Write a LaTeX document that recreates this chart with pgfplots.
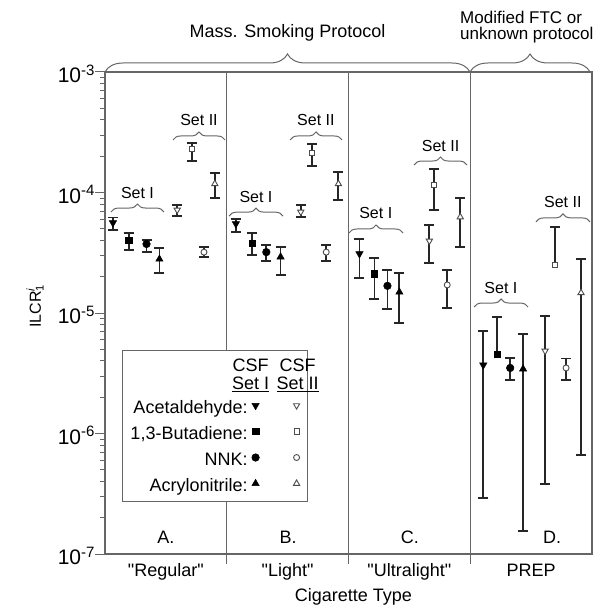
\documentclass[border=0pt]{standalone}
\usepackage{fontspec}
\setmainfont{Liberation Sans}
\setmonofont{Liberation Sans}
\usepackage{pgfplots}
\pgfplotsset{compat=1.18}
\usetikzlibrary{decorations.pathreplacing}
\newcommand{\fs}{\fontsize{18}{21}\selectfont}
\newcommand{\lfs}{\fontsize{18}{21}\selectfont}
\newcommand{\sfs}{\fontsize{16}{19}\selectfont}
\newcommand{\q}{\texttt{"}}
\newcommand{\tl}[1]{{\fontsize{21}{24}\selectfont 10}\raisebox{7.5pt}{\fontsize{15}{17}\selectfont #1}}
\newcommand{\st}{\rule[-3.8pt]{0pt}{20.6pt}}
\tikzset{
  mAI/.style={mark=triangle*, mark size=4.2pt, mark options={rotate=180, fill=black, draw=black, line width=0.5pt}},
  mBI/.style={mark=square*, mark size=3.2pt, mark options={fill=black, draw=black, line width=0.5pt}},
  mNI/.style={mark=*, mark size=3.8pt, mark options={fill=black, draw=black, line width=0.5pt}},
  mRI/.style={mark=triangle*, mark size=4.2pt, mark options={fill=black, draw=black, line width=0.5pt}},
  mAII/.style={mark=triangle*, mark size=3.6pt, mark options={rotate=180, fill=white, draw=black!70, line width=0.9pt}},
  mBII/.style={mark=square*, mark size=2.6pt, mark options={fill=white, draw=black!70, line width=0.9pt}},
  mNII/.style={mark=*, mark size=3pt, mark options={fill=white, draw=black!70, line width=0.9pt}},
  mRII/.style={mark=triangle*, mark size=3.6pt, mark options={fill=white, draw=black!70, line width=0.9pt}},
}
\pgfplotsset{
  ebar/.style={only marks, black,
    error bars/y dir=both, error bars/y explicit,
    error bars/error bar style={line width=1.8pt, black!85},
    error bars/error mark options={rotate=90, mark size=5pt, line width=1.6pt, black!85}},
  ebarplus/.style={only marks, black,
    error bars/y dir=plus, error bars/y explicit,
    error bars/error bar style={line width=1.8pt, black!85},
    error bars/error mark options={rotate=90, mark size=5pt, line width=1.6pt, black!85}},
  legA/.style={legend image code/.code={\path[draw=none] (0pt,-13pt) rectangle (41pt,13pt);
     \draw[black, only marks, mAI] plot coordinates {(8pt,0pt)};
     \draw[black, only marks, mAII] plot coordinates {(49pt,0pt)};}},
  legB/.style={legend image code/.code={\path[draw=none] (0pt,-13pt) rectangle (41pt,13pt);
     \draw[black, only marks, mBI] plot coordinates {(8pt,0pt)};
     \draw[black, only marks, mBII] plot coordinates {(49pt,0pt)};}},
  legN/.style={legend image code/.code={\path[draw=none] (0pt,-13pt) rectangle (41pt,13pt);
     \draw[black, only marks, mNI] plot coordinates {(8pt,0pt)};
     \draw[black, only marks, mNII] plot coordinates {(49pt,0pt)};}},
  legR/.style={legend image code/.code={\path[draw=none] (0pt,-13pt) rectangle (41pt,13pt);
     \draw[black, only marks, mRI] plot coordinates {(8pt,0pt)};
     \draw[black, only marks, mRII] plot coordinates {(49pt,0pt)};}},
  legH/.style={legend image code/.code={\path[draw=none] (0pt,-21pt) rectangle (41pt,16pt);
     \node[overlay, anchor=base, inner sep=0pt, font=\lfs, black] at (3pt,0pt) {CSF};
     \node[overlay, anchor=base, inner sep=0pt, font=\lfs, black] at (3pt,-18pt) {\underline{Set I}};
     \node[overlay, anchor=base, inner sep=0pt, font=\lfs, black] at (50pt,0pt) {CSF};
     \node[overlay, anchor=base, inner sep=0pt, font=\lfs, black] at (50pt,-18pt) {\underline{Set II}};}},
}
\begin{document}
\begin{tikzpicture}
\path[use as bounding box] (-105pt,-58pt) rectangle (500pt,554pt);
\begin{axis}[
  at={(0,0)}, anchor=south west,
  scale only axis, width=487pt, height=482pt,
  xmin=0, xmax=4, ymode=log, ymin=1e-7, ymax=1e-3,
  clip=false,
  axis line style={black!60, line width=1.2pt},
  xtick={1,2,3}, xticklabels={,,},
  xmajorgrids, grid style={black!60, line width=1.2pt},
  extra x ticks={0.5,1.5,2.5,3.5},
  extra x tick labels={{\q Regular\q},{\q Light\q},{\q Ultralight\q},{PREP}},
  extra x tick style={major tick length=0pt, grid=none,
     xticklabel style={anchor=base, yshift=-22pt}},
  xtick pos=bottom, ytick pos=left, tick align=outside,
  major tick length=10pt, minor tick length=5pt,
  tick style={black!60, line width=1pt},
  ytick={1e-7,1e-6,1e-5,1e-4,1e-3},
  yticklabels={\tl{-7},\tl{-6},\tl{-5},\tl{-4},\tl{-3}},
  yticklabel style={xshift=3pt, yshift=-2pt},
  tick label style={font=\fs},
  label style={font=\fs},
  xlabel={Cigarette Type},
  xlabel style={at={(rel axis cs:0.51,0)}, anchor=base, yshift=-47pt},
  ylabel={ILCR\rlap{\textsuperscript{\textit{i}}}\textsubscript{1}},
  ylabel style={at={(rel axis cs:-0.1437,0.5145)}, anchor=center, font=\sfs},
  legend columns=1, legend cell align=right, legend plot pos=right,
  legend style={at={(rel axis cs:0.0349,0.4232)}, anchor=north west,
    draw=black!60, line width=1pt, font=\lfs, inner xsep=8pt, inner ysep=5pt,
    row sep=0pt, column sep=0pt, nodes={inner sep=0pt}},
]
% ---- Set I (filled) ----
\addplot[ebar, mAI, forget plot] coordinates {
 (0.065,5.6e-5) += (0,0.6e-5) -= (0,0.7e-5)
 (1.075,5.5e-5) += (0,0.5e-5) -= (0,0.8e-5)
 (2.09,3.1e-5) += (0,1.0e-5) -= (0,1.15e-5)
 (3.107,3.7e-6) += (0,3.4e-6) -= (0,3.41e-6)
};
\addplot[ebar, mBI, forget plot] coordinates {
 (0.195,4.0e-5) += (0,0.6e-5) -= (0,0.67e-5)
 (1.208,3.8e-5) += (0,0.8e-5) -= (0,0.77e-5)
 (2.213,2.11e-5) += (0,0.75e-5) -= (0,0.8e-5)
};
\addplot[ebarplus, mBI, forget plot] coordinates {
 (3.221,4.57e-6) += (0,4.7e-6) -= (0,0)
};
\addplot[ebar, mNI, forget plot] coordinates {
 (0.341,3.74e-5) += (0,0.3e-5) -= (0,0.54e-5)
 (1.325,3.2e-5) += (0,0.46e-5) -= (0,0.5e-5)
 (2.32,1.68e-5) += (0,0.59e-5) -= (0,0.6e-5)
 (3.328,3.5e-6) += (0,0.74e-6) -= (0,0.72e-6)
};
\addplot[ebar, mRI, forget plot] coordinates {
 (0.447,2.8e-5) += (0,0.66e-5) -= (0,0.65e-5)
 (1.442,2.92e-5) += (0,0.61e-5) -= (0,0.85e-5)
 (2.418,1.49e-5) += (0,0.66e-5) -= (0,0.664e-5)
 (3.434,3.43e-6) += (0,3.27e-6) -= (0,3.275e-6)
};
% ---- Set II (open) ----
\addplot[ebar, mAII, forget plot] coordinates {
 (0.593,7.16e-5) += (0,0.71e-5) -= (0,0.78e-5)
 (1.608,6.9e-5) += (0,0.97e-5) -= (0,0.64e-5)
 (2.664,3.96e-5) += (0,1.41e-5) -= (0,1.36e-5)
 (3.615,4.84e-6) += (0,4.59e-6) -= (0,4.46e-6)
};
\addplot[ebar, mBII, forget plot] coordinates {
 (0.715,2.3e-4) += (0,0.28e-4) -= (0,0.48e-4)
 (1.70,2.13e-4) += (0,0.39e-4) -= (0,0.47e-4)
 (2.705,1.15e-4) += (0,0.42e-4) -= (0,0.434e-4)
};
\addplot[ebarplus, mBII, forget plot] coordinates {
 (3.697,2.5e-5) += (0,2.68e-5) -= (0,0)
};
\addplot[ebar, mNII, forget plot] coordinates {
 (0.813,3.2e-5) += (0,0.33e-5) -= (0,0.28e-5)
 (1.817,3.2e-5) += (0,0.46e-5) -= (0,0.5e-5)
 (2.811,1.71e-5) += (0,0.56e-5) -= (0,0.61e-5)
 (3.787,3.5e-6) += (0,0.7e-6) -= (0,0.72e-6)
};
\addplot[ebar, mRII, forget plot] coordinates {
 (0.902,1.18e-4) += (0,0.27e-4) -= (0,0.28e-4)
 (1.917,1.18e-4) += (0,0.30e-4) -= (0,0.313e-4)
 (2.918,6.26e-5) += (0,2.74e-5) -= (0,2.73e-5)
 (3.91,1.47e-5) += (0,1.33e-5) -= (0,1.404e-5)
};
% ---- legend ----
\addlegendimage{legH}\addlegendentry{}
\addlegendimage{legA}\addlegendentry{\st Acetaldehyde:}
\addlegendimage{legB}\addlegendentry{\st 1,3-Butadiene:}
\addlegendimage{legN}\addlegendentry{\st NNK:}
\addlegendimage{legR}\addlegendentry{\st Acrylonitrile:}
% ---- braces and annotations ----
\begin{scope}[black!60, line width=1pt]
\draw[decorate, decoration={brace, amplitude=18pt}] (rel axis cs:0,1) -- (rel axis cs:0.7495,1);
\draw[decorate, decoration={brace, amplitude=18pt}] (rel axis cs:0.7495,1) -- (rel axis cs:0.996,1);
\draw[decorate, decoration={brace, amplitude=8pt}] (rel axis cs:0.0123,0.7095) -- (rel axis cs:0.121,0.7095);
\draw[decorate, decoration={brace, amplitude=8pt}] (rel axis cs:0.1396,0.859) -- (rel axis cs:0.2464,0.859);
\draw[decorate, decoration={brace, amplitude=8pt}] (rel axis cs:0.2546,0.701) -- (rel axis cs:0.3655,0.701);
\draw[decorate, decoration={brace, amplitude=8pt}] (rel axis cs:0.380,0.859) -- (rel axis cs:0.4867,0.859);
\draw[decorate, decoration={brace, amplitude=8pt}] (rel axis cs:0.501,0.666) -- (rel axis cs:0.612,0.666);
\draw[decorate, decoration={brace, amplitude=8pt}] (rel axis cs:0.6345,0.807) -- (rel axis cs:0.7433,0.807);
\draw[decorate, decoration={brace, amplitude=8pt}] (rel axis cs:0.758,0.5124) -- (rel axis cs:0.8686,0.5124);
\draw[decorate, decoration={brace, amplitude=8pt}] (rel axis cs:0.885,0.689) -- (rel axis cs:0.996,0.689);
\end{scope}
\node[anchor=base, inner sep=0pt, yshift=14pt, font=\sfs] at (rel axis cs:0.0667,0.7095) {Set I};
\node[anchor=base, inner sep=0pt, yshift=14pt, font=\sfs] at (rel axis cs:0.193,0.859) {Set II};
\node[anchor=base, inner sep=0pt, yshift=14pt, font=\sfs] at (rel axis cs:0.310,0.701) {Set I};
\node[anchor=base, inner sep=0pt, yshift=14pt, font=\sfs] at (rel axis cs:0.433,0.859) {Set II};
\node[anchor=base, inner sep=0pt, yshift=14pt, font=\sfs] at (rel axis cs:0.556,0.666) {Set I};
\node[anchor=base, inner sep=0pt, yshift=14pt, font=\sfs] at (rel axis cs:0.689,0.807) {Set II};
\node[anchor=base, inner sep=0pt, yshift=14pt, font=\sfs] at (rel axis cs:0.813,0.5124) {Set I};
\node[anchor=base, inner sep=0pt, yshift=14pt, font=\sfs] at (rel axis cs:0.940,0.689) {Set II};
\node[anchor=base, inner sep=0pt, yshift=34pt, font=\fs] at (rel axis cs:0.3747,1) {Mass. Smoking Protocol};
\node[anchor=base west, inner sep=0pt, yshift=48pt, font=\fontsize{17}{20}\selectfont] at (rel axis cs:0.729,1) {Modified FTC or};
\node[anchor=base west, inner sep=0pt, yshift=32pt, font=\fontsize{17}{20}\selectfont] at (rel axis cs:0.729,1) {unknown protocol};
\node[anchor=base, inner sep=0pt, font=\fs] at (rel axis cs:0.125,0.0228) {A.};
\node[anchor=base, inner sep=0pt, font=\fs] at (rel axis cs:0.376,0.0228) {B.};
\node[anchor=base, inner sep=0pt, font=\fs] at (rel axis cs:0.626,0.0228) {C.};
\node[anchor=base, inner sep=0pt, font=\fs] at (rel axis cs:0.918,0.0228) {D.};
\end{axis}
\end{tikzpicture}
\end{document}
